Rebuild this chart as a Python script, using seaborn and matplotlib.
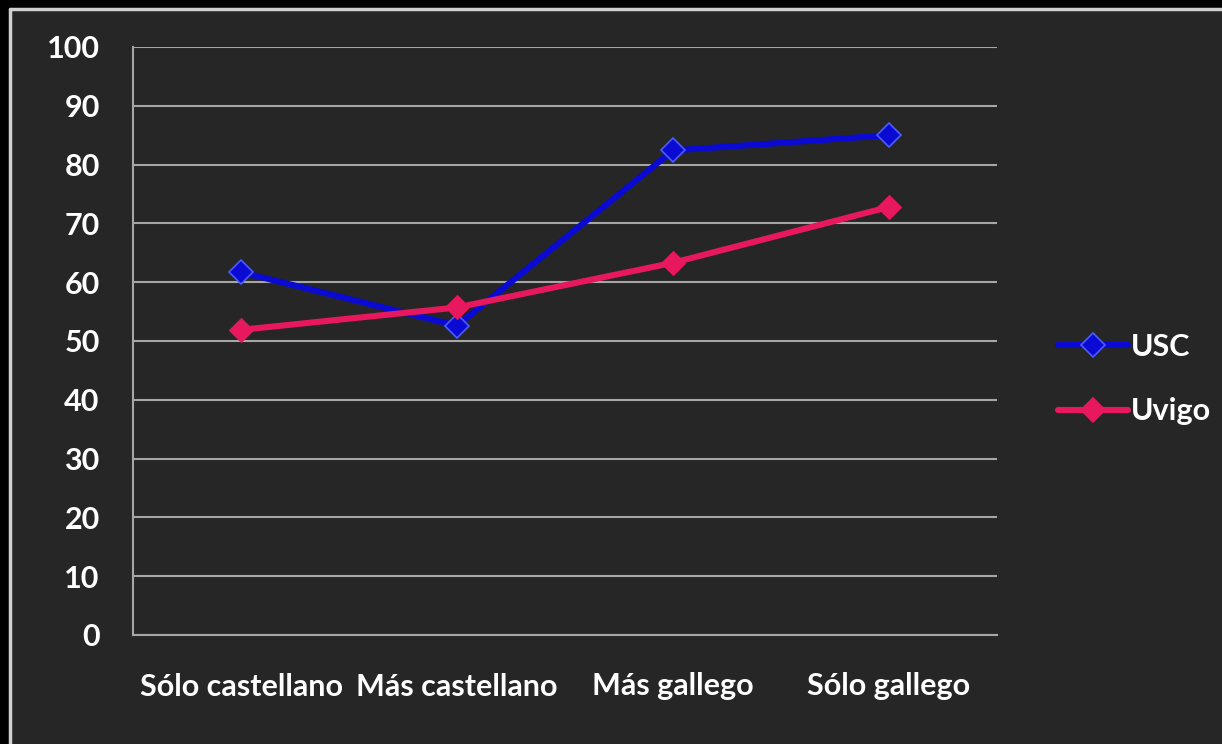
import numpy as np
import pandas as pd
import matplotlib
matplotlib.use("Agg")
import matplotlib.pyplot as plt
from matplotlib.patches import Rectangle
from matplotlib.lines import Line2D
import seaborn as sns

categories = ["Sólo castellano", "Más castellano", "Más gallego", "Sólo gallego"]
usc = [61.7, 52.6, 82.4, 85.0]
uvigo = [51.9, 55.7, 63.3, 72.8]
series_names = ["USC", "Uvigo"]
y_ticks = [0, 10, 20, 30, 40, 50, 60, 70, 80, 90, 100]

df = pd.DataFrame({
    "pos": list(range(len(categories))) * 2,
    "value": usc + uvigo,
    "series": [series_names[0]] * len(categories) + [series_names[1]] * len(categories),
})

sns.set_style("dark")
plt.rcParams['font.family'] = ['Lato', 'DejaVu Sans']

W, H = 1222, 744
FS = 22
fig = plt.figure(figsize=(W / 100, H / 100), dpi=100)
fig.patch.set_facecolor("black")
# dark panel
fig.patches.append(Rectangle((10 / W, 0), 1 - 10 / W, 1 - 9 / H, transform=fig.transFigure,
                             facecolor="#262626", edgecolor="none", zorder=-10))
fig.lines.append(Line2D([10 / W, 1], [1 - 9 / H, 1 - 9 / H], transform=fig.transFigure,
                        color="#d0d0d0", lw=2.5, zorder=-5))
fig.lines.append(Line2D([10 / W, 10 / W], [0, 1 - 9 / H], transform=fig.transFigure,
                        color="#d0d0d0", lw=2.5, zorder=-5))

ax = fig.add_axes([133 / W, (H - 635) / H, (997 - 133) / W, (635 - 47) / H])
ax.set_facecolor("none")
ax.set_zorder(1)

palette = {"USC": "#0a0ad2", "Uvigo": "#e8185e"}
edge = {"USC": "#4a5cff", "Uvigo": "#e8185e"}
sns.lineplot(data=df, x="pos", y="value", hue="series", palette=palette, ax=ax,
             linewidth=4.4, marker="D", markersize=12, legend=False, zorder=3)
for line in ax.lines:
    c = line.get_color()
    if c == palette["USC"]:
        line.set_markeredgecolor(edge["USC"])
        line.set_markeredgewidth(1.2)
    else:
        line.set_markeredgecolor(c)

ax.set_xlim(-0.5, len(categories) - 0.5)
ax.set_ylim(0, 100)
ax.set_yticks(y_ticks)
ax.set_yticklabels([str(t) for t in y_ticks])
ax.set_xticks(np.arange(-0.5, len(categories), 1.0))
ax.set_xticklabels([])
ax.set_xticks(np.arange(len(categories)), minor=True)
ax.set_xticklabels(categories, minor=True)
ax.set_xlabel("")
ax.set_ylabel("")

ax.grid(axis="y", color="#a6a6a6", linewidth=1.5, zorder=1)
ax.grid(axis="x", visible=False)
for s in ["top", "right"]:
    ax.spines[s].set_visible(False)
for s in ["left", "bottom"]:
    ax.spines[s].set_visible(True)
    ax.spines[s].set_color("#a6a6a6")
    ax.spines[s].set_linewidth(1.5)

ax.tick_params(axis="y", which="major", direction="out", length=9, width=1.5, color="#a6a6a6",
               labelcolor="white", labelsize=FS, pad=15)
ax.tick_params(axis="x", which="major", direction="out", length=10, width=1.5, color="#a6a6a6")
ax.tick_params(axis="x", which="minor", length=0, labelcolor="white", labelsize=FS, pad=27)
for lbl in ax.get_yticklabels() + ax.get_xticklabels(minor=True):
    lbl.set_fontweight("bold")

# legend
handles = [Line2D([0], [0], color=palette[n], lw=4.4, marker="D", markersize=12,
                  markeredgecolor=edge[n], markeredgewidth=1.2) for n in series_names]
leg = fig.legend(handles, series_names, loc="center left", bbox_to_anchor=(1030 / W, 1 - 379 / H),
                 frameon=False, handlelength=2.3, handletextpad=0.1, labelspacing=1.2,
                 prop={"size": FS, "weight": "bold"})
for t in leg.get_texts():
    t.set_color("white")

fig.savefig("out.png", dpi=100, facecolor=fig.get_facecolor())
